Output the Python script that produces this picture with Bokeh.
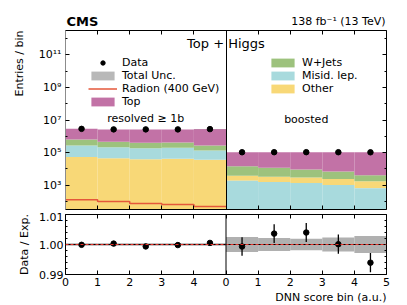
import numpy as np
from bokeh.plotting import figure
from bokeh.layouts import column
from bokeh.models import (Range1d, FixedTicker, LinearAxis, LogAxis, Label, Legend,
                          LegendItem, Span, NumeralTickFormatter, Title)
from bokeh.embed import file_html
from bokeh.resources import INLINE

# ---------------- data ----------------
res_bins = [0, 1, 2, 3, 4]          # resolved >= 1b DNN bins (global position)
boo_bins = [5, 6, 7, 8, 9]          # boosted DNN bins (global position)
x_tick_labels = ["0", "1", "2", "3", "4", "0", "1", "2", "3", "4", "5"]

res_other = [52500, 44700, 38900, 41700, 36300]
res_misid = [216700, 169100, 147300, 153300, 95500]
res_wjets = [361800, 243200, 211900, 212400, 137400]
res_top = [2219000, 2193000, 2252000, 2242600, 2481000]
res_data = [2849700, 2650800, 2648400, 2649500, 2751650]
res_radion = [126, 98, 74, 65, 48]
res_unc = [0.0004, 0.0004, 0.0004, 0.0004, 0.0004]
res_data_err = [0.0005, 0.0005, 0.0005, 0.0005, 0.0005]

boo_misid = [1860, 1550, 1350, 1000, 630]
boo_other = [1940, 1760, 1530, 1340, 1070]
boo_wjets = [10600, 8400, 6200, 4600, 2300]
boo_top = [90000, 93000, 96000, 98000, 100000]
boo_data = [104330, 105090, 105500, 104950, 103370]
boo_unc = [0.0025, 0.0022, 0.0019, 0.0023, 0.0028]
boo_data_err = [0.0031, 0.0031, 0.0032, 0.0032, 0.0032]

# ---------------- style ----------------
FONT = "DejaVu Sans"
C_TOP = "#c272a6"
C_WJ = "#9dc27d"
C_MIS = "#a8dadd"
C_OTH = "#f8d877"
C_UNC = "#b0b0b0"
C_RAD = "#e4573a"

W = 407
LB, RB = 61, 21
Y_LO, Y_HI = 1.5, 12.5
MAIN_H_FRAME = 179
PX_DEC = MAIN_H_FRAME / (Y_HI - Y_LO)

def ylog_from_top(px):
    return 10 ** (Y_HI - px / PX_DEC)

# ---------------- stacking ----------------
comp_res = {"other": res_other, "misid": res_misid, "wjets": res_wjets, "top": res_top}
comp_boo = {"other": boo_other, "misid": boo_misid, "wjets": boo_wjets, "top": boo_top}
order_res = ["other", "misid", "wjets", "top"]
order_boo = ["misid", "other", "wjets", "top"]

def stack(comps, order):
    cur = np.zeros(5)
    out = {}
    for k in order:
        v = np.array(comps[k], dtype=float)
        bot = cur.copy()
        top = cur + v
        out[k] = (np.where(bot > 0, bot, 10 ** Y_LO), top)
        cur = top
    return out, cur

st_res, tot_res = stack(comp_res, order_res)
st_boo, tot_boo = stack(comp_boo, order_boo)

left = np.array(res_bins + boo_bins, dtype=float)
right = left + 1
centers = left + 0.5
total = np.concatenate([tot_res, tot_boo])
data = np.array(res_data + boo_data, dtype=float)
unc = np.array(res_unc + boo_unc)
data_err = np.array(res_data_err + boo_data_err)
ratio = data / total

XT = list(range(11))
YT_MAJ = [1e3, 1e5, 1e7, 1e9, 1e11]
YT_MIN = [1e2, 1e4, 1e6, 1e8, 1e10, 1e12]
RT_MAJ = [0.99, 1.0, 1.01]
RT_MIN = [0.992, 0.994, 0.996, 0.998, 1.002, 1.004, 1.006, 1.008]

def style_axis(ax, ticks, size="11px", labels=True):
    ax.major_tick_in = 4
    ax.major_tick_out = 0
    ax.minor_tick_in = 2
    ax.minor_tick_out = 0
    ax.axis_line_color = "black"
    ax.major_tick_line_color = "black"
    ax.minor_tick_line_color = "black"
    ax.major_label_text_font = FONT
    ax.major_label_text_color = "black"
    ax.major_label_text_font_size = size
    if not labels:
        ax.major_label_text_font_size = "1px"
        ax.major_label_standoff = 0
        ax.major_label_overrides = {t: "" for t in ticks}

def title(text, align, standoff, size="11px", style="normal"):
    return Title(text=text, align=align, standoff=standoff, text_font=FONT,
                 text_font_size=size, text_font_style=style, text_color="black")

# ---------------- header (CMS / lumi) ----------------
h = figure(width=W, height=29, x_range=Range1d(0, 10), y_range=Range1d(0, 1),
           output_backend="svg", toolbar_location=None, title=None,
           x_axis_location=None, y_axis_location=None,
           min_border_left=LB, min_border_right=RB, min_border_top=0, min_border_bottom=0)
h.grid.visible = False
h.outline_line_color = None
h.add_layout(Label(x=0.03, y=0.29, text="CMS", text_font=FONT, text_font_size="13px",
                   text_font_style="bold", text_align="left", text_baseline="middle",
                   text_color="black"))
h.add_layout(Label(x=9.97, y=0.29, text="138 fb⁻¹ (13 TeV)", text_font=FONT,
                   text_font_size="11px", text_align="right", text_baseline="middle",
                   text_color="black"))

# ---------------- main panel ----------------
p = figure(width=W, height=183, x_range=h.x_range,
           y_range=Range1d(10 ** Y_LO, 10 ** Y_HI), y_axis_type="log",
           output_backend="svg", toolbar_location=None, title=None,
           min_border_left=LB, min_border_right=RB, min_border_top=1, min_border_bottom=3)
p.grid.visible = False
p.outline_line_color = None

renderers = {}
for key, col in [("other", C_OTH), ("misid", C_MIS), ("wjets", C_WJ), ("top", C_TOP)]:
    bot = np.concatenate([st_res[key][0], st_boo[key][0]])
    top = np.concatenate([st_res[key][1], st_boo[key][1]])
    renderers[key] = p.quad(left=left, right=right, bottom=bot, top=top,
                            fill_color=col, line_color=None)

unc_r = p.quad(left=left, right=right, bottom=total * (1 - unc), top=total * (1 + unc),
               fill_color=C_UNC, fill_alpha=0.9, line_color=None)

rad_x = res_bins + [res_bins[-1] + 1]
rad_y = res_radion + [res_radion[-1]]
rad_r = p.step(x=rad_x, y=rad_y, mode="after", line_color=C_RAD, line_width=1.5)

p.vspan(x=[5], line_color="black", line_width=1)
dots = p.scatter(x=centers, y=data, size=5.5, color="black")

for ax in p.xaxis:
    ax.ticker = FixedTicker(ticks=XT)
    style_axis(ax, XT, labels=False)
for ax in p.yaxis:
    ax.ticker = FixedTicker(ticks=YT_MAJ, minor_ticks=YT_MIN)
    style_axis(ax, YT_MAJ)
    ax.axis_line_color = "#8c8c8c"
    ax.major_label_standoff = 4
    ax.major_label_overrides = {1000: "10³", 100000: "10⁵", 10000000: "10⁷",
                                1000000000: "10⁹", 100000000000: "10¹¹"}
ax_top = LinearAxis(ticker=FixedTicker(ticks=XT))
style_axis(ax_top, XT, labels=False)
p.add_layout(ax_top, "above")
ax_right = LogAxis(ticker=FixedTicker(ticks=YT_MAJ, minor_ticks=YT_MIN))
style_axis(ax_right, [1000, 100000, 10000000, 1000000000, 100000000000], labels=False)
p.add_layout(ax_right, "right")
p.add_layout(title("Entries / bin", "right", 20), "left")

leg_kw = dict(border_line_color=None, background_fill_alpha=0, padding=0, margin=0, spacing=0,
              glyph_width=29, glyph_height=11, label_standoff=5, label_height=11,
              label_text_font=FONT, label_text_font_size="11px", label_text_color="black")
leg1 = Legend(items=[LegendItem(label="Data", renderers=[dots]),
                     LegendItem(label="Total Unc.", renderers=[unc_r]),
                     LegendItem(label="Radion (400 GeV)", renderers=[rad_r]),
                     LegendItem(label="Top", renderers=[renderers["top"]])],
              location=(23, 101), **leg_kw)
leg2 = Legend(items=[LegendItem(label="W+Jets", renderers=[renderers["wjets"]]),
                     LegendItem(label="Misid. lep.", renderers=[renderers["misid"]]),
                     LegendItem(label="Other", renderers=[renderers["other"]])],
              location=(203, 114), **leg_kw)
p.add_layout(leg1)
p.add_layout(leg2)

def lab(fig, x, y, text, size="11px"):
    fig.add_layout(Label(x=x, y=y, text=text, text_font=FONT, text_font_size=size,
                         text_align="center", text_baseline="middle", text_color="black"))

lab(p, 5, ylog_from_top(13), "Top + Higgs", size="13px")
lab(p, 2.5, ylog_from_top(87.5), "resolved ≥ 1b")
lab(p, 7.5, ylog_from_top(88.5), "boosted")

# ---------------- ratio panel ----------------
r = figure(width=W, height=92, x_range=h.x_range, y_range=Range1d(0.99, 1.01),
           output_backend="svg", toolbar_location=None, title=None,
           min_border_left=LB, min_border_right=RB, min_border_top=2, min_border_bottom=30)
r.grid.visible = False
r.outline_line_color = None

r.quad(left=left, right=right, bottom=1 - unc, top=1 + unc, fill_color=C_UNC, line_color=None)
r.add_layout(Span(location=1.0, dimension="width", line_color="black", line_width=1))
r.add_layout(Span(location=1.0, dimension="width", line_color="#e8322a", line_width=1,
                  line_dash="3 2"))
r.add_layout(Span(location=5, dimension="height", line_color="black", line_width=1))
r.segment(x0=centers, x1=centers, y0=ratio - data_err, y1=ratio + data_err,
          line_color="black", line_width=1.3)
r.scatter(x=centers, y=ratio, size=5.5, color="black")

for ax in r.xaxis:
    ax.ticker = FixedTicker(ticks=XT)
    style_axis(ax, XT)
    ax.major_label_standoff = 3
    ax.major_label_overrides = {i: t for i, t in enumerate(x_tick_labels)}
for ax in r.yaxis:
    ax.ticker = FixedTicker(ticks=RT_MAJ, minor_ticks=RT_MIN)
    style_axis(ax, RT_MAJ)
    ax.major_label_standoff = 2
    ax.formatter = NumeralTickFormatter(format="0.00")
r_top = LinearAxis(ticker=FixedTicker(ticks=XT))
style_axis(r_top, XT, labels=False)
r.add_layout(r_top, "above")
r_right = LinearAxis(ticker=FixedTicker(ticks=RT_MAJ, minor_ticks=RT_MIN))
style_axis(r_right, RT_MAJ, labels=False)
r.add_layout(r_right, "right")
r.add_layout(title("Data / Exp.", "center", 11), "left")
r.add_layout(title("DNN score bin (a.u.)", "right", 0), "below")

layout = column(h, p, r, spacing=0)
open("out.html", "w").write(file_html(layout, INLINE))
